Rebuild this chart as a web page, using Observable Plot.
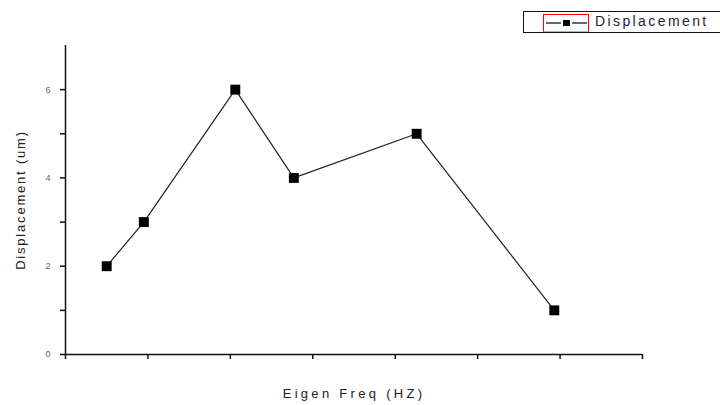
<!DOCTYPE html>
<html>
<head>
<meta charset="utf-8">
<script src="https://cdn.jsdelivr.net/npm/d3@7"></script>
<script src="https://cdn.jsdelivr.net/npm/@observablehq/plot@0.6"></script>
<style>
  html, body { margin: 0; padding: 0; background: #fff; }
  #wrap { position: relative; width: 720px; height: 405px; overflow: hidden; font-family: "Liberation Sans", Arial, sans-serif; }
  #wrap svg { font-family: "Liberation Sans", Arial, sans-serif; }
  g[aria-label="x-axis label"] text { letter-spacing: 3.3px; font-size: 13px; fill: #222; }
  g[aria-label="y-axis label"] text { font-size: 13px; letter-spacing: 1.8px; fill: #222; }
  g[aria-label="y-axis tick label"] text { fill: #665; font-size: 9px; }
  #legend { position: absolute; left: 523px; top: 11px; width: 230px; height: 20px; border: 1.5px solid #111; background: #fff; }
  #legend .sample { position: absolute; left: 19px; top: 2px; width: 46px; height: 18px; border: 1.3px solid #f00; border-bottom-color: #0ff; box-sizing: border-box; }
  #legend .txt { position: absolute; left: 71px; top: 1px; font-size: 14px; letter-spacing: 2.4px; color: #223; }
</style>
</head>
<body>
<div id="wrap"></div>
<script>
// Data
const eigenFreq = [0.5, 0.95, 2.06, 2.77, 4.26, 5.93];
const displacement = [2, 3, 6, 4, 5, 1];
const xTicks = [0, 1, 2, 3, 4, 5, 6, 7];
const yTicks = [0, 1, 2, 3, 4, 5, 6];
const yTickLabels = ["0", "", "2", "", "4", "", "6"];
const seriesName = "Displacement";

const data = eigenFreq.map((f, i) => ({f, d: displacement[i]}));

const chart = Plot.plot({
  width: 720,
  height: 405,
  marginLeft: 65,
  marginRight: 78,
  marginTop: 45,
  marginBottom: 51,
  x: {domain: [0, 7]},
  y: {domain: [0, 7]},
  marks: [
    Plot.axisX({ticks: xTicks, tickFormat: () => "", tickSize: 5, stroke: "#111", strokeWidth: 1.5,
      label: "Eigen Freq (HZ)", labelAnchor: "center", labelArrow: "none", labelOffset: 43}),
    Plot.axisY({ticks: yTicks, tickFormat: (d) => yTickLabels[yTicks.indexOf(d)], tickSize: 5, tickPadding: 10,
      stroke: "#111", strokeWidth: 1.5,
      label: "Displacement (um)", labelAnchor: "center", labelArrow: "none", labelOffset: 50}),
    Plot.ruleX([0], {stroke: "#111", strokeWidth: 1.5}),
    Plot.ruleY([0], {stroke: "#111", strokeWidth: 1.5}),
    Plot.line(data, {x: "f", y: "d", stroke: "#222", strokeWidth: 1.2}),
    Plot.dot(data, {x: "f", y: "d", symbol: "square", r: 5.6, fill: "#000", stroke: "none"})
  ]
});
const wrap = document.getElementById("wrap");
wrap.appendChild(chart);

const legend = document.createElement("div");
legend.id = "legend";
legend.innerHTML = `<div class="sample"><svg width="46" height="18" style="position:absolute;left:-1px;top:-1px">
  <line x1="3" y1="9" x2="18" y2="9" stroke="#000" stroke-width="1.2"/>
  <line x1="29" y1="9" x2="44" y2="9" stroke="#000" stroke-width="1.2"/>
  <rect x="20" y="6" width="7" height="6" fill="#000"/></svg></div><div class="txt">${seriesName}</div>`;
wrap.appendChild(legend);
</script>
</body>
</html>
